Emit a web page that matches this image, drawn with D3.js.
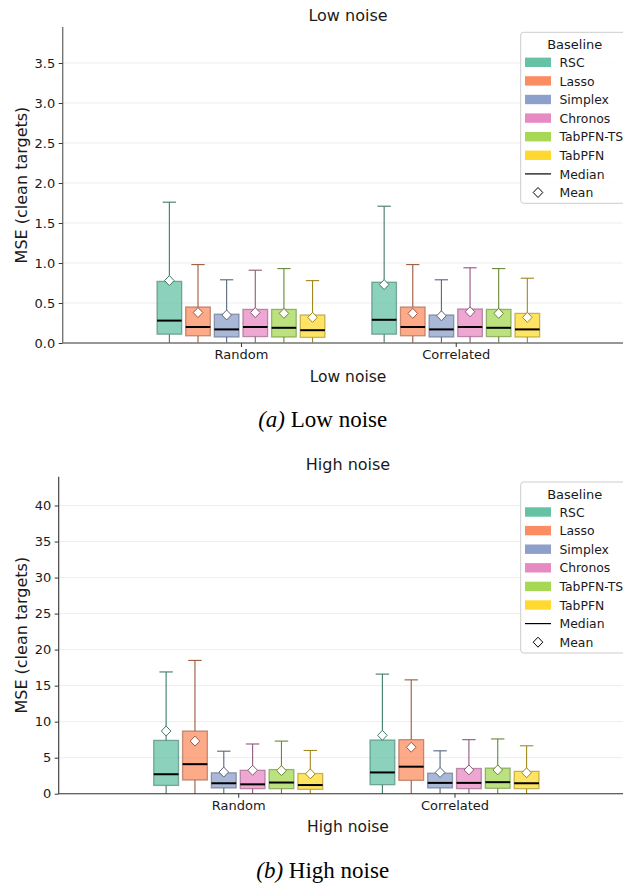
<!DOCTYPE html>
<html>
<head>
<meta charset="utf-8">
<script src="https://cdn.jsdelivr.net/npm/d3@7"></script>
<style>
  body { margin: 0; background: #fff; }
  svg { display: block; }
  text { font-family: "DejaVu Sans", sans-serif; fill: #1a1a1a; }
</style>
</head>
<body>
<svg id="chart" width="623" height="886"></svg>
<script>
// categories
var methods = ["RSC", "Lasso", "Simplex", "Chronos", "TabPFN-TS", "TabPFN"];
var groups = ["Random", "Correlated"];
var palette = ["#66c2a5", "#fc8d62", "#8da0cb", "#e78ac3", "#a6d854", "#ffd92f"];

// low noise: one row per group (Random, Correlated), one value per method
var lowHi   = [[1.76, 0.98, 0.79, 0.91, 0.93, 0.78], [1.71, 0.98, 0.79, 0.94, 0.93, 0.81]];
var lowQ3   = [[0.77, 0.45, 0.36, 0.42, 0.42, 0.35], [0.76, 0.45, 0.35, 0.425, 0.42, 0.37]];
var lowMed  = [[0.28, 0.20, 0.17, 0.20, 0.19, 0.16], [0.29, 0.20, 0.17, 0.20, 0.19, 0.17]];
var lowQ1   = [[0.11, 0.09, 0.075, 0.08, 0.075, 0.07], [0.11, 0.09, 0.075, 0.08, 0.08, 0.075]];
var lowLo   = [[0.0, 0.0, 0.0, 0.0, 0.0, 0.0], [0.0, 0.0, 0.0, 0.0, 0.0, 0.0]];
var lowMean = [[0.78, 0.38, 0.35, 0.38, 0.37, 0.32], [0.73, 0.37, 0.34, 0.39, 0.37, 0.32]];

// high noise
var highHi   = [[16.9, 18.5, 5.9, 6.9, 7.3, 6.0], [16.6, 15.8, 5.95, 7.5, 7.6, 6.65]];
var highQ3   = [[7.4, 8.7, 2.9, 3.25, 3.35, 2.8], [7.45, 7.5, 2.85, 3.5, 3.55, 3.1]];
var highMed  = [[2.7, 4.1, 1.45, 1.3, 1.55, 1.2], [2.95, 3.75, 1.5, 1.5, 1.6, 1.45]];
var highQ1   = [[1.15, 1.9, 0.8, 0.7, 0.7, 0.6], [1.25, 1.85, 0.8, 0.7, 0.75, 0.7]];
var highLo   = [[0.0, 0.0, 0.0, 0.0, 0.0, 0.0], [0.0, 0.0, 0.0, 0.0, 0.0, 0.0]];
var highMean = [[8.7, 7.3, 3.0, 3.25, 3.2, 2.75], [8.1, 6.45, 2.95, 3.3, 3.3, 2.9]];

var lowTicks = [0, 0.5, 1.0, 1.5, 2.0, 2.5, 3.0, 3.5];
var highTicks = [0, 5, 10, 15, 20, 25, 30, 35, 40];

var svg = d3.select("#chart");

function panel(o) {
    var g = svg.append("g");
    var x = d3.scaleLinear().domain([-0.83, 1.83]).range([o.left, 634]);
    var y = d3.scaleLinear().domain(o.ydom).range([o.bottom, o.top]);
    var slot = 0.8 / methods.length;
    var bw = x(slot * 0.86) - x(0);

    // grid
    g.selectAll(".grid").data(o.ticks).enter().append("line")
        .attr("x1", o.left).attr("x2", 623)
        .attr("y1", function (d) { return y(d); }).attr("y2", function (d) { return y(d); })
        .style("stroke", "#ebebeb").style("stroke-width", 0.9);

    // boxes
    var boxes = [];
    for (var gi = 0; gi < groups.length; gi++) {
        for (var mi = 0; mi < methods.length; mi++) {
            boxes.push({
                cx: x(gi + (mi - (methods.length - 1) / 2) * slot),
                hi: o.hi[gi][mi], q3: o.q3[gi][mi], med: o.med[gi][mi],
                q1: o.q1[gi][mi], lo: o.lo[gi][mi], mean: o.mean[gi][mi],
                color: palette[mi]
            });
        }
    }
    boxes.forEach(function (b) {
        var dark = d3.color(b.color).darker(1.3).formatHex();
        var bg = g.append("g");
        // whiskers
        bg.append("line").attr("x1", b.cx).attr("x2", b.cx)
            .attr("y1", y(b.q3)).attr("y2", y(b.hi))
            .style("stroke", dark).style("stroke-width", 1.1);
        bg.append("line").attr("x1", b.cx).attr("x2", b.cx)
            .attr("y1", y(b.q1)).attr("y2", y(b.lo))
            .style("stroke", dark).style("stroke-width", 1.1);
        bg.append("line").attr("x1", b.cx - bw * 0.27).attr("x2", b.cx + bw * 0.27)
            .attr("y1", y(b.hi)).attr("y2", y(b.hi))
            .style("stroke", dark).style("stroke-width", 1.1);
        // box
        bg.append("rect")
            .attr("x", b.cx - bw / 2).attr("width", bw)
            .attr("y", y(b.q3)).attr("height", y(b.q1) - y(b.q3))
            .style("fill", b.color).style("fill-opacity", 0.75)
            .style("stroke", dark).style("stroke-opacity", 0.6).style("stroke-width", 1.3);
        // median
        bg.append("line").attr("x1", b.cx - bw / 2).attr("x2", b.cx + bw / 2)
            .attr("y1", y(b.med)).attr("y2", y(b.med))
            .style("stroke", "#000").style("stroke-width", 2);
        // mean
        bg.append("path")
            .attr("d", "M0,-5L4.8,0L0,5L-4.8,0Z")
            .attr("transform", "translate(" + b.cx + "," + y(b.mean) + ")")
            .style("fill", "#fff").style("stroke", dark).style("stroke-width", 1);
    });

    // axes
    var ya = g.append("g").attr("transform", "translate(" + o.left + ",0)")
        .call(d3.axisLeft(y).tickValues(o.ticks).tickFormat(o.fmt).tickSize(4).tickPadding(3.5));
    var xa = g.append("g").attr("transform", "translate(0," + o.bottom + ")")
        .call(d3.axisBottom(x).tickValues([0, 1]).tickFormat(function (d) { return groups[d]; })
            .tickSize(4).tickPadding(3));
    [ya, xa].forEach(function (a) {
        a.select(".domain").style("stroke", o.spine).style("stroke-width", o.spineW);
        a.selectAll(".tick line").style("stroke", "#333");
        a.selectAll("text").style("font-size", "13px").style("font-family", "DejaVu Sans").style("fill", "#1a1a1a");
    });
    ya.select(".domain").attr("d", "M0," + o.bottom + "V" + o.top);
    xa.select(".domain").attr("d", "M" + o.left + ",0H634");

    // titles
    g.append("text").attr("x", 348).attr("y", o.top - 6.3)
        .attr("text-anchor", "middle").style("font-size", "16px").text(o.title);
    g.append("text").attr("x", 348).attr("y", o.bottom + 38.5)
        .attr("text-anchor", "middle").style("font-size", "15.5px").text(o.title);
    g.append("text")
        .attr("transform", "translate(21," + ((o.top + o.bottom) / 2) + ") rotate(-90)")
        .attr("text-anchor", "middle").attr("dominant-baseline", "central")
        .style("font-size", "16px").text("MSE (clean targets)");

    // caption
    var cap = g.append("text").attr("x", 322.7).attr("y", o.bottom + 84)
        .attr("text-anchor", "middle")
        .style("font-family", "'Liberation Serif', 'Times New Roman', serif")
        .style("font-size", "23px").style("fill", "#000");
    cap.append("tspan").style("font-style", "italic").text(o.letter);
    cap.append("tspan").text(" " + o.title);

    // legend
    var lx = 520.7, ly = o.top + 5.3;
    var lg = g.append("g");
    lg.append("rect").attr("x", lx).attr("y", ly).attr("width", 120).attr("height", 171)
        .attr("rx", 3).style("fill", "#fff").style("fill-opacity", 0.85)
        .style("stroke", "#cccccc").style("stroke-width", 1);
    lg.append("text").attr("x", 574.7).attr("y", ly + 16.5).attr("text-anchor", "middle")
        .style("font-size", "13px").text("Baseline");
    var items = methods.concat(["Median", "Mean"]);
    items.forEach(function (name, i) {
        var cy = ly + 30 + i * 18.6;
        if (i < methods.length) {
            lg.append("rect").attr("x", 525).attr("y", cy - 4.7).attr("width", 26).attr("height", 9.4)
                .style("fill", palette[i]);
        } else if (name === "Median") {
            lg.append("line").attr("x1", 525).attr("x2", 551).attr("y1", cy).attr("y2", cy)
                .style("stroke", "#000").style("stroke-width", 1.2);
        } else {
            lg.append("path").attr("d", "M0,-5L4.8,0L0,5L-4.8,0Z")
                .attr("transform", "translate(538," + cy + ")")
                .style("fill", "#fff").style("stroke", "#000").style("stroke-width", 1);
        }
        lg.append("text").attr("x", 559.5).attr("y", cy + 4.6)
            .style("font-size", "12.4px").text(name);
    });
}

panel({
    title: "Low noise", letter: "(a)", left: 62.7, top: 27, bottom: 343,
    ydom: [0, 3.95], ticks: lowTicks, fmt: d3.format(".1f"),
    hi: lowHi, q3: lowQ3, med: lowMed, q1: lowQ1, lo: lowLo, mean: lowMean,
    spine: "#777", spineW: 1.4
});
panel({
    title: "High noise", letter: "(b)", left: 58.7, top: 476.7, bottom: 793.7,
    ydom: [0, 44], ticks: highTicks, fmt: d3.format("d"),
    hi: highHi, q3: highQ3, med: highMed, q1: highQ1, lo: highLo, mean: highMean,
    spine: "#333", spineW: 1.1
});
</script>
</body>
</html>
